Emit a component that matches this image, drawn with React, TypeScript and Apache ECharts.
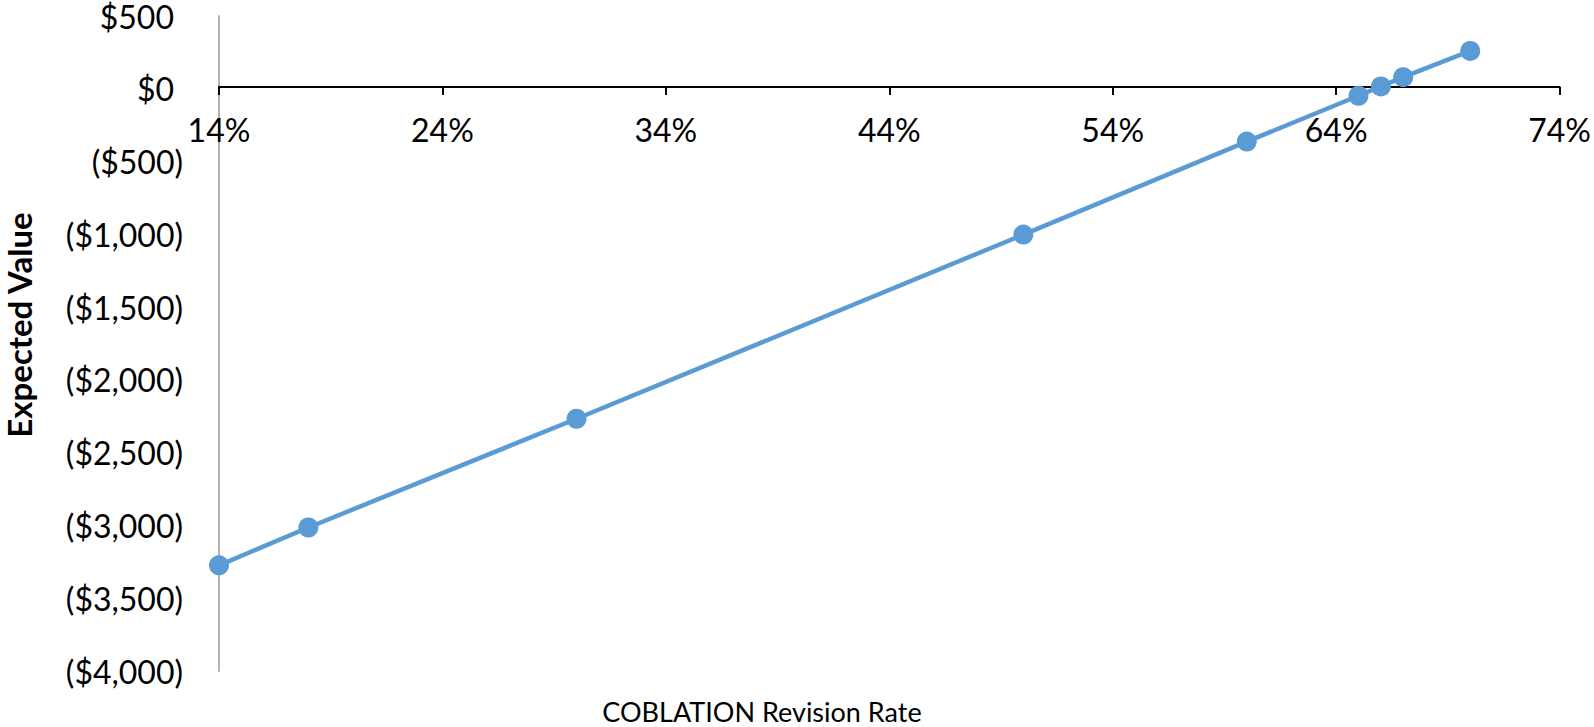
import React, { useEffect, useRef } from "react";
import * as echarts from "echarts";

const revisionRate = [14, 18, 30, 50, 60, 65, 66, 67, 70];
const expectedValue = [-3274, -3014, -2267, -1002, -363, -48, 16, 80, 260];
const xTicks = [14, 24, 34, 44, 54, 64, 74];
const xMin = 14;
const xMax = 74;
const yMin = -4000;
const yMax = 500;
const yStep = 500;

const FONT = "Lato";
const BLUE = "#5b9bd5";
const GRID = { left: 219, right: 32, top: 14, bottom: 56 };
const H = 727;

function fmtMoney(v: number): string {
  const abs = Math.abs(v).toLocaleString("en-US");
  return v < 0 ? `{n|($${abs})}` : `{p|$${abs}}`;
}

export default function App() {
  const ref = useRef<HTMLDivElement>(null);
  useEffect(() => {
    if (!ref.current) return;
    const chart = echarts.init(ref.current, undefined, { renderer: "svg" });
    const points = revisionRate.map((x, i) => [x, expectedValue[i]]);
    const gridH = H - GRID.top - GRID.bottom;
    // place the x axis at value 0 of the y axis
    const zeroFromBottom = ((0 - yMin) / (yMax - yMin)) * gridH;
    chart.setOption({
      animation: false,
      backgroundColor: "#ffffff",
      grid: GRID,
      xAxis: {
        type: "value",
        min: xMin,
        max: xMax,
        position: "bottom",
        offset: -zeroFromBottom,
        axisLine: { show: true, onZero: false, lineStyle: { color: "#000000", width: 2 } },
        axisTick: { show: true, length: 8, customValues: xTicks, lineStyle: { color: "#000000", width: 2 } },
        axisLabel: {
          customValues: xTicks,
          formatter: (v: number) => `${v}%`,
          color: "#000000",
          fontFamily: FONT,
          fontSize: 32,
          margin: 26,
        },
        splitLine: { show: false },
      },
      yAxis: {
        type: "value",
        min: yMin,
        max: yMax,
        interval: yStep,
        axisLine: { show: true, onZero: false, lineStyle: { color: "#b4b4b4", width: 2 } },
        axisTick: { show: false },
        splitLine: { show: false },
        axisLabel: {
          formatter: (v: number) => fmtMoney(v),
          margin: 36,
          rich: {
            n: { color: "#000000", fontFamily: FONT, fontSize: 32 },
            p: { color: "#000000", fontFamily: FONT, fontSize: 32, padding: [0, 9, 0, 0] },
          },
        },
      },
      series: [
        {
          type: "line",
          data: points,
          symbol: "circle",
          symbolSize: 20,
          lineStyle: { color: BLUE, width: 4.5 },
          itemStyle: { color: BLUE },
        },
      ],
      graphic: [
        {
          type: "text",
          x: 19,
          y: 325,
          rotation: Math.PI / 2,
          style: {
            text: "Expected Value",
            fill: "#000000",
            font: `bold 33px ${FONT}`,
            align: "center",
            verticalAlign: "middle",
          },
        },
        {
          type: "text",
          x: 762,
          y: 711,
          style: {
            text: "COBLATION Revision Rate",
            fill: "#000000",
            font: `27px ${FONT}`,
            align: "center",
            verticalAlign: "middle",
          },
        },
      ],
    });
    return () => chart.dispose();
  }, []);
  return (
    <div
      ref={ref}
      style={{ position: "fixed", left: 0, top: 0, width: 1594, height: 727, background: "#fff" }}
    />
  );
}
